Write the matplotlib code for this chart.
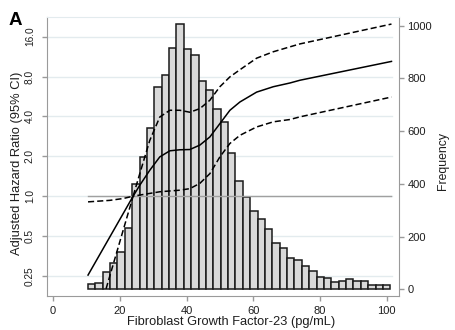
import numpy as np
import matplotlib.pyplot as plt
from matplotlib.ticker import NullLocator
from matplotlib.transforms import blended_transform_factory

plt.rcParams['font.family'] = ['Liberation Sans', 'DejaVu Sans']

# FGF-23 distribution, 41 equal-width bins
bin_start = 10.45
bin_width = 2.21
counts = [22, 24, 65, 98, 143, 232, 401, 503, 613, 766, 814, 915, 1006, 912, 887,
          792, 756, 685, 633, 518, 410, 351, 296, 265, 227, 176, 158, 118, 110, 87,
          68, 46, 43, 28, 32, 39, 30, 30, 18, 18, 18]

# spline estimate of the hazard ratio (reference = 24 pg/mL)
fgf_fit = [10.5, 24, 26, 29, 32, 35, 38, 41, 44, 47, 50, 53, 56, 61, 66, 71, 74, 101.4]
hr_fit = [0.254, 1.0, 1.21, 1.57, 1.98, 2.2, 2.24, 2.25, 2.43, 2.8, 3.53, 4.45,
          5.14, 6.1, 6.7, 7.15, 7.5, 10.4]

# upper 95% limit
fgf_hi = [10.5, 17, 21, 24, 26, 29, 32, 35, 38, 41, 44, 47, 50, 53, 56, 61, 66, 71, 74, 101.4]
hr_hi = [0.906, 0.93, 0.96, 1.0, 1.48, 2.64, 3.96, 4.45, 4.45, 4.3, 4.58, 5.3, 6.7,
         7.95, 9.0, 11.0, 12.3, 13.4, 14.1, 19.9]

# lower 95% limit
fgf_lo = [15.9, 24, 26, 32, 38, 41, 44, 47, 50, 53, 56, 61, 66, 71, 74, 101.4]
hr_lo = [0.2, 1.0, 1.02, 1.08, 1.11, 1.14, 1.25, 1.48, 1.98, 2.5, 2.88, 3.33,
         3.64, 3.79, 3.97, 5.6]

hr_ticks = [0.25, 0.5, 1, 2, 4, 8, 16]
hr_labels = ['0.25', '0.5', '1.0', '2.0', '4.0', '8.0', '16.0']
freq_ticks = [0, 200, 400, 600, 800, 1000]
x_ticks = [0, 20, 40, 60, 80, 100]

axis_col = '#9a9a9a'
grid_col = '#e3ebee'
text_col = '#1e1e1e'

fig = plt.figure(figsize=(4.55, 3.3), dpi=100)
ax = fig.add_axes([0.1026, 0.103, 0.7743, 0.8455])
axf = ax.twinx()
ax.set_zorder(3)
axf.set_zorder(1)
ax.patch.set_visible(False)

ax.set_xlim(-1.89, 103.65)
ax.set_yscale('log')
ax.set_ylim(0.1765, 22.5)
axf.set_ylim(-25.4, 1033)

# light grid at the hazard-ratio ticks, under the bars
trans = blended_transform_factory(axf.transAxes, ax.transData)
for v in hr_ticks:
    axf.plot([0, 0.98], [v, v], transform=trans, color=grid_col, lw=1, zorder=0)

edges = bin_start + bin_width * np.arange(len(counts))
axf.bar(edges, counts, width=bin_width, align='edge', color='#d9d9d9',
        edgecolor='#1a1a1a', linewidth=1.1, zorder=2)

ax.plot([fgf_fit[0], fgf_fit[-1]], [1, 1], color='#a0a0a0', lw=1, zorder=2)
ax.plot(fgf_fit, hr_fit, color='black', lw=1.1, zorder=4)
ax.plot(fgf_hi, hr_hi, color='black', lw=1.1, dashes=(4, 2), zorder=4)
ax.plot(fgf_lo, hr_lo, color='black', lw=1.1, dashes=(4, 2), zorder=4)

ax.set_xticks(x_ticks)
ax.set_yticks(hr_ticks)
ax.set_yticklabels(hr_labels, rotation=90, va='center')
ax.yaxis.set_minor_locator(NullLocator())
axf.set_yticks(freq_ticks)

ax.tick_params(axis='x', length=3.5, width=1, color=axis_col, labelsize=8,
               labelcolor=text_col, pad=3.5)
ax.tick_params(axis='y', length=3.5, width=1, color=axis_col, labelsize=7.3,
               labelcolor=text_col, pad=5)
axf.tick_params(axis='y', length=3.5, width=1, color=axis_col, labelsize=8,
                labelcolor=text_col, pad=2.5)

for side in ['left', 'bottom', 'right']:
    ax.spines[side].set_color(axis_col)
ax.spines['top'].set_color(grid_col)
for side in axf.spines:
    axf.spines[side].set_visible(False)

ax.set_xlabel('Fibroblast Growth Factor-23 (pg/mL)', fontsize=9.3, color=text_col)
ax.set_ylabel('Adjusted Hazard Ratio (95% CI)', fontsize=9.3, color=text_col)
axf.set_ylabel('Frequency', fontsize=8.8, color=text_col)
ax.xaxis.set_label_coords(0.523, -0.07)
ax.yaxis.set_label_coords(-0.066, 0.475)
axf.yaxis.set_label_coords(1.107, 0.484)

fig.text(15.5 / 455, 1 - 20.4 / 330, 'A', fontsize=13.5, fontweight='bold',
         ha='center', va='center', color='black')

fig.savefig('out.png', dpi=100, facecolor='white')
